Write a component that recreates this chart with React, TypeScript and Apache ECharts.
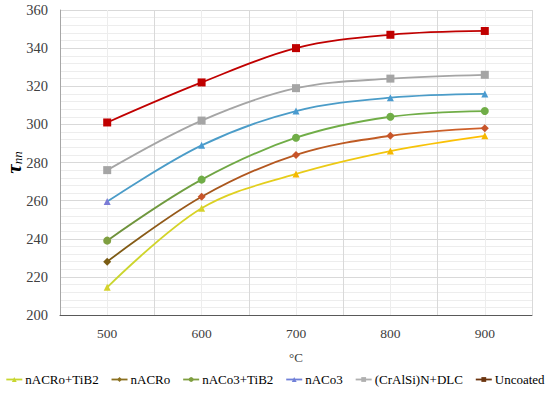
import React, { useEffect, useRef } from "react";
import * as echarts from "echarts";

const categories = ["500", "600", "700", "800", "900"];
const seriesNames = ["nACRo+TiB2", "nACRo", "nACo3+TiB2", "nACo3", "(CrAlSi)N+DLC", "Uncoated"];
const nACRoTiB2 = [214.5, 256, 274, 286, 294];
const nACRo = [228, 262, 284, 294, 298];
const nACo3TiB2 = [239, 271, 293, 304, 307];
const nACo3 = [259.5, 289, 307, 314, 316];
const CrAlSiN_DLC = [276, 302, 319, 324, 326];
const uncoated = [301, 322, 340, 347, 349];
const yTicks = [200, 360];

const FONT = "'Liberation Serif', 'DejaVu Serif', serif";

export default function App() {
  const ref = useRef<HTMLDivElement>(null);
  useEffect(() => {
    document.body.style.margin = "0";
    const chart = echarts.init(ref.current!, null, { renderer: "svg" });
    const grad = (stops: [number, string][]) =>
      new echarts.graphic.LinearGradient(0, 0, 1, 0, stops.map(([offset, color]) => ({ offset, color })));
    const toPts = (arr: number[]) => arr.map((v, i) => [Number(categories[i]), v]);
    const mk = (
      name: string,
      data: number[],
      lineColor: any,
      symbol: string,
      size: number,
      markerColor: (i: number) => string
    ) => ({
      name,
      type: "line",
      data: toPts(data),
      smooth: 0.35,
      symbol,
      symbolSize: size,
      showSymbol: true,
      lineStyle: { width: 1.8, color: lineColor },
      itemStyle: { color: (p: any) => markerColor(p.dataIndex), borderWidth: 0 },
      z: 3,
    });
    const series = [
      mk(seriesNames[0], nACRoTiB2, grad([[0, "#c8d630"], [0.35, "#e0d020"], [1, "#ffbe00"]]), "triangle", 7,
        (i) => (i < 2 ? "#d6d22c" : "#f5b800")),
      mk(seriesNames[1], nACRo, grad([[0, "#7a5c14"], [0.35, "#b0561e"], [1, "#d0602a"]]), "diamond", 8,
        (i) => (i === 0 ? "#7a5c14" : "#c8552a")),
      mk(seriesNames[2], nACo3TiB2, grad([[0, "#6f8f3a"], [0.4, "#70ad47"], [1, "#70ad47"]]), "circle", 8,
        (i) => (i === 0 ? "#7f9f40" : "#70ad47")),
      mk(seriesNames[3], nACo3, "#4b9cc8", "triangle", 7, (i) => (i === 0 ? "#7b7bd6" : "#4a9bd0")),
      mk(seriesNames[4], CrAlSiN_DLC, "#a5a5a5", "rect", 8, () => "#a5a5a5"),
      mk(seriesNames[5], uncoated, "#c00000", "rect", 8, () => "#c00000"),
    ];
    const legendColors = ["#c8d630", "#8b7020", "#7f9f40", "#7080d8", "#b0b0b0", "#6b3510"];
    chart.setOption({
      animation: false,
      backgroundColor: "#ffffff",
      textStyle: { fontFamily: FONT },
      grid: { left: 60, right: 18, top: 10, bottom: 79, containLabel: false, outerBoundsMode: "none" },
      xAxis: [
        {
          type: "value",
          min: 450,
          max: 950,
          interval: 100,
          axisLabel: { show: false },
          axisTick: { show: false },
          axisLine: { show: true, lineStyle: { color: "#595959", width: 1 } },
          splitLine: { show: true, lineStyle: { color: "#d9d9d9", width: 1 } },
          minorTick: { show: false, splitNumber: 2 },
          minorSplitLine: { show: true, lineStyle: { color: "#ededed", width: 1 } },
        },
        {
          type: "category",
          data: categories,
          boundaryGap: true,
          position: "bottom",
          axisLine: { show: false },
          axisTick: { show: false },
          splitLine: { show: false },
          axisLabel: { color: "#404040", fontSize: 13.5, fontFamily: FONT, margin: 11 },
          name: "°C",
          nameLocation: "middle",
          nameGap: 36,
          nameMoveOverlap: false,
          nameTextStyle: { color: "#404040", fontSize: 13, fontFamily: FONT },
        },
      ],
      yAxis: {
        type: "value",
        min: yTicks[0],
        max: yTicks[1],
        interval: 20,
        axisLine: { show: true, lineStyle: { color: "#a6a6a6" } },
        axisTick: { show: false },
        axisLabel: { color: "#404040", fontSize: 14.5, fontFamily: FONT, margin: 12 },
        splitLine: { show: true, lineStyle: { color: "#d9d9d9", width: 1 } },
        minorTick: { show: false, splitNumber: 5 },
        minorSplitLine: { show: true, lineStyle: { color: "#ededed", width: 1 } },
        name: "{t|τ}{s|nn}",
        nameLocation: "middle",
        nameGap: 36,
        nameMoveOverlap: false,
        nameRotate: 90,
        nameTextStyle: {
          rich: {
            t: { fontSize: 21, fontStyle: "italic", fontWeight: "bold", fontFamily: FONT, color: "#000" },
            s: { fontSize: 13, fontStyle: "italic", fontFamily: FONT, color: "#000", padding: [8, 0, 0, 0] },
          },
        },
      },
      legend: {
        bottom: 8,
        left: "center",
        itemGap: 12,
        itemWidth: 16,
        itemHeight: 6,
        padding: 0,
        textStyle: { fontSize: 13, fontFamily: FONT, color: "#000", padding: [0, 0, 0, -2] },
        data: seriesNames.map((n, i) => ({
          name: n,
          itemStyle: { color: legendColors[i] },
          lineStyle: { color: legendColors[i], width: 1.8 },
        })),
      },
      series,
    });
    return () => chart.dispose();
  }, []);
  return <div ref={ref} style={{ width: 550, height: 394 }} />;
}
